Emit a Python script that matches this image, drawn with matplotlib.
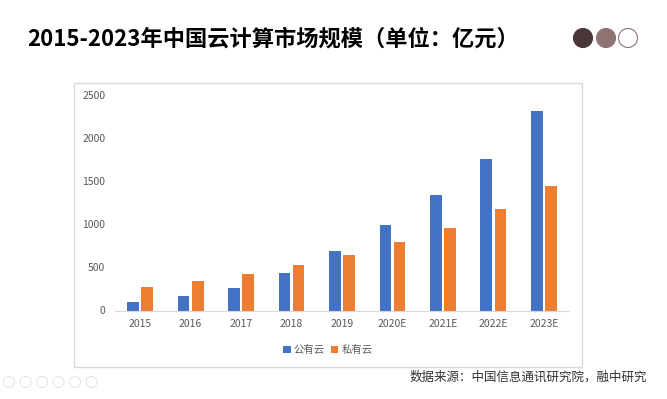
import matplotlib
matplotlib.use('Agg')
import matplotlib.pyplot as plt
import numpy as np
from matplotlib.patches import Rectangle, Circle

plt.rcParams['font.family'] = ['Noto Sans CJK SC', 'DejaVu Sans']

years = ['2015', '2016', '2017', '2018', '2019', '2020E', '2021E', '2022E', '2023E']
public_cloud = [102, 170, 265, 437, 689, 990, 1338, 1759, 2307]
private_cloud = [276, 345, 427, 525, 645, 791, 961, 1178, 1446]
series_names = ['公有云', '私有云']

title = '2015-2023年中国云计算市场规模（单位：亿元）'
source = '数据来源：中国信息通讯研究院，融中研究'

W, H = 667, 399
fig = plt.figure(figsize=(W / 100, H / 100), dpi=100)
fig.patch.set_facecolor('white')


def fx(px):
    return px / W


def fy(py):
    return 1 - py / H


# background layer in pixel coordinates (y down)
bg = fig.add_axes([0, 0, 1, 1], zorder=-1)
bg.set_xlim(0, W)
bg.set_ylim(H, 0)
bg.axis('off')
bg.add_patch(Rectangle((74, 83), 582 - 74, 367 - 83, facecolor='white',
                       edgecolor='#d9d9d9', linewidth=1.0))
for cx, fc, ec in [(583, '#4a3538', '#4a3538'), (606, '#8f7274', '#8f7274'),
                   (628, 'white', '#8f7274')]:
    bg.add_patch(Circle((cx, 38), 9.5, facecolor=fc, edgecolor=ec, linewidth=0.8))
# faint slide-nav icons bottom-left
for i in range(6):
    bg.add_patch(Circle((9 + i * 16.5, 382), 5.5, facecolor='none',
                        edgecolor='#e2e2e2', linewidth=0.7))

ax = fig.add_axes([fx(115), fy(310.5), fx(569) - fx(115), fy(94.7) - fy(310.5)])
ax.set_facecolor('none')

x = np.arange(len(years))
w = 0.23
off = 0.14
ax.bar(x - off, public_cloud, w, color='#4472C4', label=series_names[0])
ax.bar(x + off, private_cloud, w, color='#ED7D31', label=series_names[1])

ax.set_xlim(-0.5, len(years) - 0.5)
ax.set_ylim(0, 2500)
ax.set_yticks([0, 500, 1000, 1500, 2000, 2500])
ax.set_xticks(x)
ax.set_xticklabels(years)
ax.tick_params(axis='both', length=0, labelsize=7.5, colors='#595959')
ax.tick_params(axis='y', pad=7)
ax.tick_params(axis='x', pad=6)
for s in ['top', 'right', 'left']:
    ax.spines[s].set_visible(False)
ax.spines['bottom'].set_color('#d9d9d9')
ax.spines['bottom'].set_linewidth(0.8)

leg = fig.legend(loc='center', bbox_to_anchor=(fx(328), fy(350)), ncol=2, frameon=False,
                 fontsize=7.5, handlelength=0.7, handleheight=0.7, handletextpad=0.3,
                 columnspacing=0.6)
for t in leg.get_texts():
    t.set_color('#595959')

fig.text(fx(27), fy(39), title, fontsize=16, fontweight='bold', color='black',
         ha='left', va='center')

fig.text(fx(647), fy(377), source, fontsize=9, color='#333333', ha='right', va='center')

fig.savefig('out.png', dpi=100)
